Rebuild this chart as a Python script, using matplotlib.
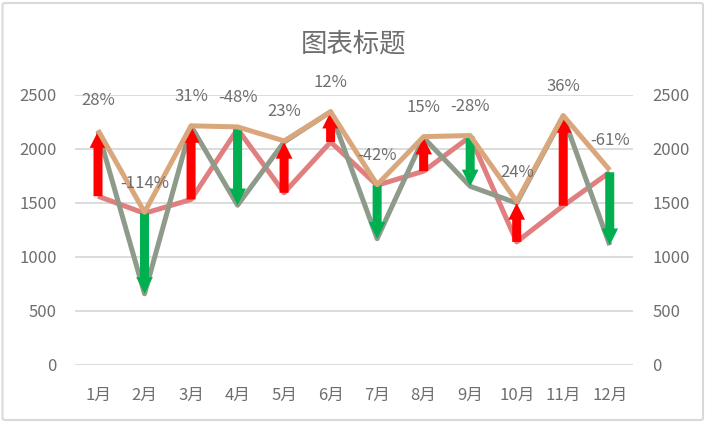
import matplotlib
matplotlib.use("Agg")
import matplotlib.pyplot as plt
from matplotlib.patches import FancyBboxPatch

plt.rcParams['font.family'] = ['Noto Sans CJK SC', 'DejaVu Sans']

months = ['1月', '2月', '3月', '4月', '5月', '6月', '7月', '8月', '9月', '10月', '11月', '12月']
series_a = [1558, 1400, 1528, 2180, 1590, 2060, 1660, 1790, 2110, 1135, 1470, 1780]   # red line (start)
series_b = [2160, 655, 2207, 1475, 2060, 2340, 1165, 2100, 1650, 1495, 2300, 1105]    # gray line (end)
series_top = [2170, 1410, 2210, 2200, 2070, 2340, 1665, 2110, 2120, 1510, 2305, 1800]  # tan line
pct_labels = ['28%', '-114%', '31%', '-48%', '23%', '12%', '-42%', '15%', '-28%', '24%', '36%', '-61%']
y_ticks = [0, 500, 1000, 1500, 2000, 2500]
title = '图表标题'

text_color = '#6e6e6e'
grid_color = '#d9d9d9'

fig = plt.figure(figsize=(7.08, 4.22), dpi=100)
ax = fig.add_axes([74.75 / 708, 1 - 364.5 / 422, (633 - 74.75) / 708, (364.5 - 94.5) / 422])

x = list(range(len(months)))

ax.plot(x, series_a, color='#E07F7F', lw=3.6, zorder=2, solid_capstyle='butt')
ax.plot(x, series_b, color='#8E9B8B', lw=3.6, zorder=3, solid_capstyle='butt')

for xi, a, b in zip(x, series_a, series_b):
    col = '#FF0000' if b > a else '#00B050'
    ax.annotate('', xy=(xi, b), xytext=(xi, a),
                arrowprops=dict(arrowstyle='simple,head_length=12,head_width=12,tail_width=6.5',
                                mutation_scale=1, color=col, lw=0, shrinkA=0, shrinkB=0),
                zorder=4)

ax.plot(x, series_top, color='#D9A77B', lw=3.6, zorder=5, solid_capstyle='butt')

for xi, t, lab in zip(x, series_top, pct_labels):
    ax.annotate(lab, xy=(xi, t), xytext=(0, 21), textcoords='offset points',
                ha='center', va='center', fontsize=12, color=text_color,
                fontweight='light', zorder=6, annotation_clip=False)

ax.set_xlim(-0.5, len(months) - 0.5)
ax.set_ylim(0, 2500)
ax.set_yticks(y_ticks)
ax.set_yticklabels([str(v) for v in y_ticks])
ax.set_xticks(x)
ax.set_xticklabels(months)
ax.grid(axis='y', color=grid_color, lw=1.3, zorder=0)
ax.set_axisbelow(True)
for s in ax.spines.values():
    s.set_visible(False)
ax.tick_params(axis='y', length=0, pad=13, labelsize=12, labelcolor=text_color)
ax.tick_params(axis='x', length=0, pad=16, labelsize=12, labelcolor=text_color)
for lbl in ax.get_xticklabels() + ax.get_yticklabels():
    lbl.set_fontweight('light')

ax2 = ax.twinx()
ax2.set_ylim(0, 2500)
ax2.set_yticks(y_ticks)
ax2.set_yticklabels([str(v) for v in y_ticks])
for s in ax2.spines.values():
    s.set_visible(False)
ax2.tick_params(axis='y', length=0, pad=14, labelsize=12, labelcolor=text_color)
for lbl in ax2.get_yticklabels():
    lbl.set_fontweight('light')

fig.text(354 / 708, 1 - 44 / 422, title, ha='center', va='center', fontsize=19,
         color=text_color, fontweight='light')

border = FancyBboxPatch((2.5 / 708, 2 / 422), 700.5 / 708, 417 / 422,
                        boxstyle='round,pad=0,rounding_size=0.004',
                        transform=fig.transFigure, fill=False, ec=grid_color, lw=1.5)
fig.patches.append(border)

fig.savefig('out.png', dpi=100)
